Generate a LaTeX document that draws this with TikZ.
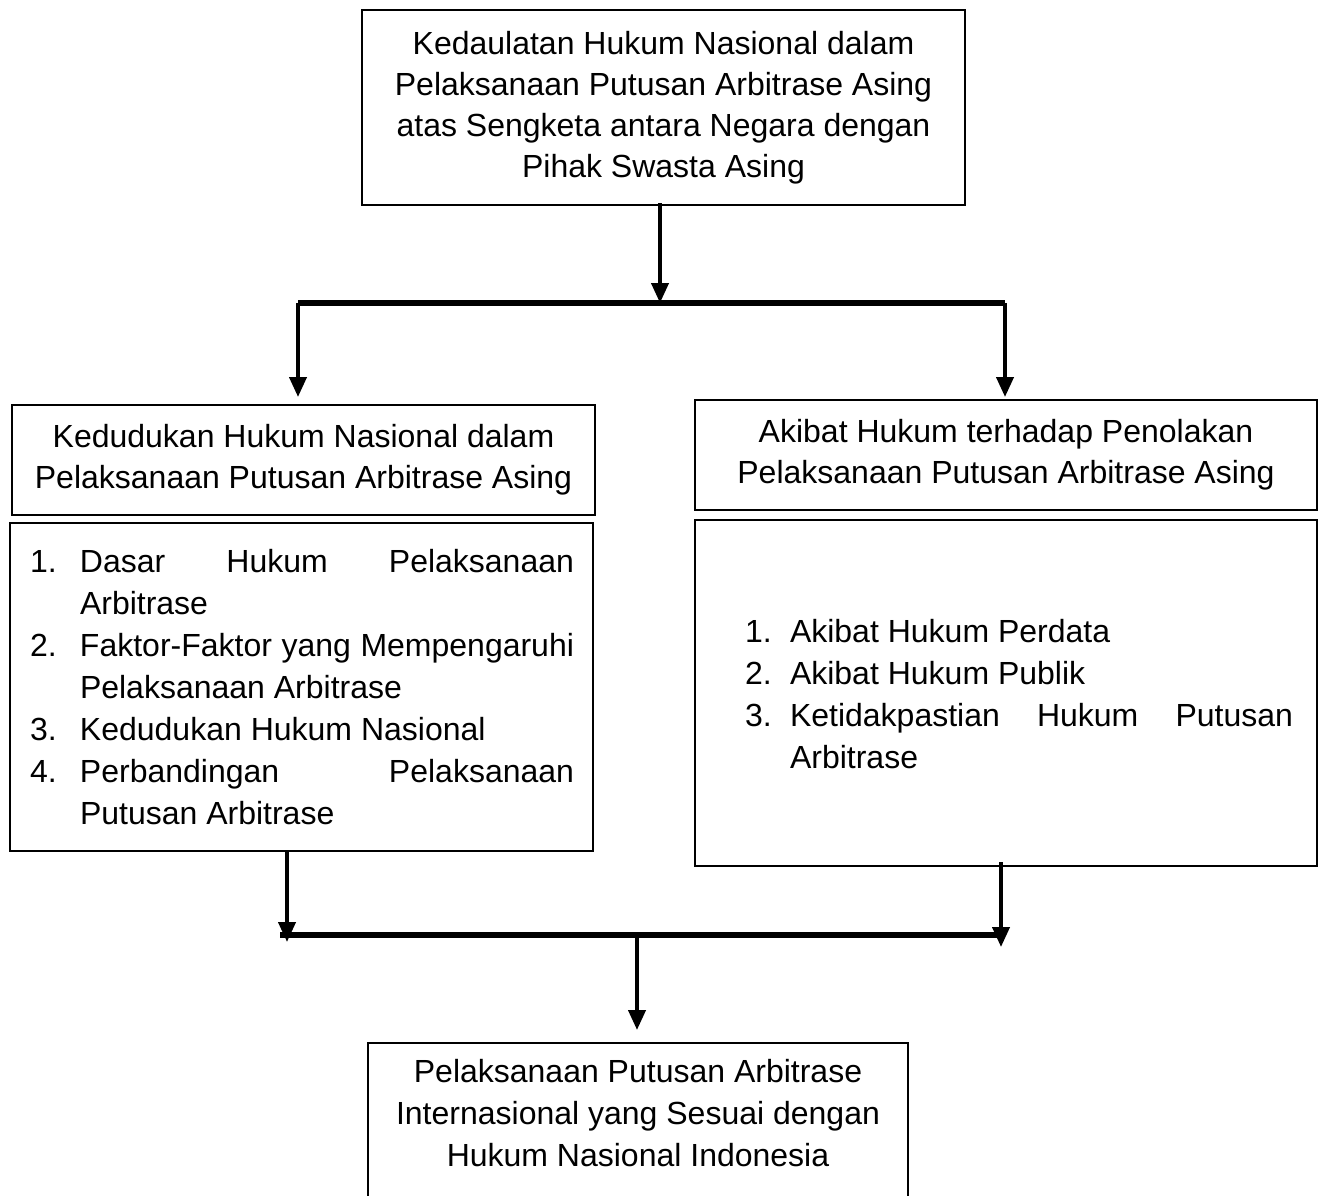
\documentclass[tikz,border=0pt]{standalone}
\usepackage{fontspec}
\setmainfont{Liberation Sans}
\usetikzlibrary{arrows.meta}
\newcommand{\lstitem}[3]{\par\noindent\hangindent=#1\hangafter=1\makebox[#1][l]{#2}#3\par}
\newcommand{\padbelow}[1]{\par\nointerlineskip\vbox to #1{\vfil}}
\begin{document}
\begin{tikzpicture}[x=1pt,y=-1pt,
  box/.style={draw, line width=2pt, align=center, inner sep=0pt, font=\fontsize{32}{41}\selectfont},
  listbox/.style={draw, line width=2pt, align=justify, inner xsep=0pt, inner ysep=0pt, font=\fontsize{32}{42}\selectfont},
  arr/.style={line width=4pt, -{Triangle[length=20pt,width=17pt]}},
  bar/.style={line width=6pt}]
\useasboundingbox (0,0) rectangle (1321,1195);

\node[box, minimum width=603pt, minimum height=195pt] (top) at (663.5,107.5)
  {Kedaulatan Hukum Nasional dalam\\Pelaksanaan Putusan Arbitrase Asing\\atas Sengketa antara Negara dengan\\Pihak Swasta Asing};

\node[box, minimum width=583pt, minimum height=110pt] (lh) at (303.5,460)
  {Kedudukan Hukum Nasional dalam\\Pelaksanaan Putusan Arbitrase Asing};

\node[box, minimum width=622pt, minimum height=110pt] (rh) at (1006,455)
  {Akibat Hukum terhadap Penolakan\\Pelaksanaan Putusan Arbitrase Asing};

\node[listbox, text width=583pt, minimum height=328pt] (ll) at (301.5,687)
  {\hyphenpenalty=10000\exhyphenpenalty=10000\tolerance=9999
   \leftskip=20pt\rightskip=19pt
   \lstitem{50pt}{1.}{Dasar Hukum Pelaksanaan Arbitrase}
   \lstitem{50pt}{2.}{Faktor-Faktor yang Mempengaruhi Pelaksanaan Arbitrase}
   \lstitem{50pt}{3.}{Kedudukan Hukum Nasional}
   \lstitem{50pt}{4.}{Perbandingan Pelaksanaan Putusan Arbitrase}
   \padbelow{18pt}};

\node[listbox, text width=622pt, minimum height=346pt] (rl) at (1006,693)
  {\hyphenpenalty=10000\exhyphenpenalty=10000\tolerance=9999
   \leftskip=50pt\rightskip=24pt
   \lstitem{45pt}{1.}{Akibat Hukum Perdata}
   \lstitem{45pt}{2.}{Akibat Hukum Publik}
   \lstitem{45pt}{3.}{Ketidakpastian Hukum Putusan Arbitrase}
   \padbelow{16pt}};

\node[box, anchor=north, inner ysep=16pt, inner xsep=0pt] (bot) at (638,1042)
  {\parbox[t][200pt][t]{540pt}{\centering\fontsize{32}{42}\selectfont
   Pelaksanaan Putusan Arbitrase\\Internasional yang Sesuai dengan\\Hukum Nasional Indonesia}};

% coordinates of the bars
\coordinate (b1m) at (660,303);
\coordinate (b1l) at (298,303);
\coordinate (b1r) at (1005,303);
\coordinate (b1lt) at (298,397);
\coordinate (b1rt) at (1005,397);
\coordinate (b2l) at (280,935);
\coordinate (b2r) at (1001,935);
\coordinate (b2m) at (637,935);
\coordinate (b2lt) at (287,942);
\coordinate (b2rs) at (1001,862);
\coordinate (b2rt) at (1001,947);
\coordinate (b3t) at (637,1030);

\draw[bar] (b1l) -- (b1r);
\draw[arr] ([yshift=3pt]top.south -| b1m) -- (b1m);
\draw[arr] (b1l) -- (b1lt);
\draw[arr] (b1r) -- (b1rt);

\draw[bar] (b2l) -- (b2r);
\draw[arr] (ll.south -| b2lt) -- (b2lt);
\draw[arr] (b2rs) -- (b2rt);
\draw[arr] (b2m) -- (b3t);
\end{tikzpicture}
\end{document}
